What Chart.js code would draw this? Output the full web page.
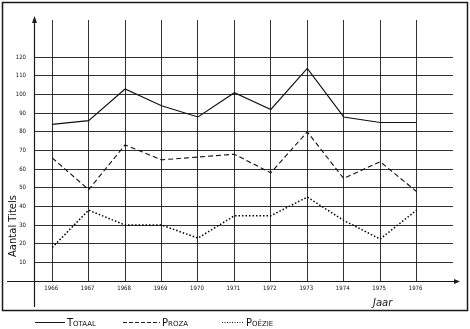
<!DOCTYPE html>
<html>
<head>
<meta charset="utf-8">
<script src="https://cdn.jsdelivr.net/npm/chart.js@4"></script>
<style>
  html, body { margin: 0; padding: 0; background: #fff; }
  #wrap { width: 470px; height: 329px; }
</style>
</head>
<body>
<div id="wrap"><canvas id="grafico" width="470" height="329"></canvas></div>
<script>
const jaren = [1966, 1967, 1968, 1969, 1970, 1971, 1972, 1973, 1974, 1975, 1976]
const totaal = [84, 86, 103, 94, 88, 101, 92, 114, 88, 85, 85]
const proza = [66, 49, 73, 65, 66.5, 68, 58, 80, 55, 64, 48]
const poezie = [18, 38, 30, 30, 23, 35, 35, 45, 32.5, 22.5, 38]
const yTicks = [10, 20, 30, 40, 50, 60, 70, 80, 90, 100, 110, 120]
const reeksen = ['Totaal', 'Proza', 'Poëzie']
const asTitelY = 'Aantal Titels'
const asTitelX = 'Jaar'

const lijnFont = '"Liberation Sans Narrow", "DejaVu Sans Condensed", "Liberation Sans", sans-serif'

function punten(arr){
    return jaren.map((j, i) => ({x: j, y: arr[i]}))
}

const tekening = {
    id: 'tekening',
    afterDraw(chart){
        const ctx = chart.ctx
        const xs = chart.scales.x, ys = chart.scales.y
        const x0 = xs.left, y0 = ys.bottom
        ctx.save()
        ctx.strokeStyle = '#1a1a1a'
        // kader
        ctx.lineWidth = 1.5
        ctx.strokeRect(2.5, 2.5, 465, 308)
        // assen
        ctx.lineWidth = 1.2
        ctx.beginPath()
        ctx.moveTo(7, y0 + 0.5); ctx.lineTo(xs.right + 5, y0 + 0.5)
        ctx.moveTo(x0 + 0.5, 307); ctx.lineTo(x0 + 0.5, ys.top - 2)
        ctx.stroke()
        ctx.fillStyle = '#1a1a1a'
        ctx.beginPath()
        ctx.moveTo(xs.right + 7, y0 + 0.5); ctx.lineTo(xs.right + 1, y0 - 2); ctx.lineTo(xs.right + 1, y0 + 3)
        ctx.fill()
        ctx.beginPath()
        ctx.moveTo(x0 + 0.5, ys.top - 4); ctx.lineTo(x0 - 2, ys.top + 3); ctx.lineTo(x0 + 3, ys.top + 3)
        ctx.fill()
        // labels
        ctx.fillStyle = '#111'
        ctx.font = '6px ' + lijnFont
        ctx.textAlign = 'right'
        ctx.textBaseline = 'middle'
        yTicks.forEach(v => ctx.fillText(v, x0 - 8, ys.getPixelForValue(v)))
        ctx.textAlign = 'center'
        jaren.forEach(j => ctx.fillText(j, xs.getPixelForValue(j) - 1, y0 + 7))
        ctx.font = 'italic 10px "DejaVu Sans", sans-serif'
        ctx.textAlign = 'left'
        ctx.fillText(asTitelX, 373, 303)
        ctx.save()
        ctx.translate(13, 226)
        ctx.rotate(-Math.PI / 2)
        ctx.textAlign = 'center'
        ctx.font = '10px "DejaVu Sans", sans-serif'
        ctx.fillText(asTitelY, 0, 0)
        ctx.restore()
        // legenda
        const leg = [[35, 65, []], [123, 160, [4, 2]], [222, 244, [1, 1.5]]]
        ctx.lineWidth = 1
        leg.forEach((l, i) => {
            ctx.setLineDash(l[2])
            ctx.beginPath()
            ctx.moveTo(l[0], 322.5); ctx.lineTo(l[1], 322.5)
            ctx.stroke()
            ctx.setLineDash([])
            const t = reeksen[i].toUpperCase()
            let x = l[1] + 2
            ctx.textAlign = 'left'
            ctx.textBaseline = 'alphabetic'
            ctx.font = '10px "DejaVu Sans", sans-serif'
            ctx.fillText(t[0], x, 326)
            x += ctx.measureText(t[0]).width
            ctx.font = '7px "DejaVu Sans", sans-serif'
            ctx.fillText(t.slice(1), x, 326)
        })
        ctx.restore()
    }
}

const graph = new Chart(document.getElementById('grafico').getContext('2d'), {
    type: 'line',
    data: {
        datasets: [{
            label: reeksen[0],
            data: punten(totaal),
            borderColor: '#111',
            borderWidth: 1.1
        }, {
            label: reeksen[1],
            data: punten(proza),
            borderColor: '#111',
            borderWidth: 1.1,
            borderDash: [5, 3]
        }, {
            label: reeksen[2],
            data: punten(poezie),
            borderColor: '#000',
            borderWidth: 1.5,
            borderDash: [1.5, 2]
        }]
    },
    options: {
        responsive: false,
        animation: false,
        layout: { padding: { left: 34, top: 20, right: 17, bottom: 48 } },
        elements: { point: { radius: 0 }, line: { tension: 0 } },
        plugins: { legend: { display: false }, tooltip: { enabled: false } },
        scales: {
            x: {
                type: 'linear', min: 1965.5, max: 1977,
                afterBuildTicks: s => { s.ticks = jaren.map(v => ({value: v})) },
                ticks: { display: false },
                grid: { color: 'rgba(0,0,0,0.8)', lineWidth: 1, drawTicks: false },
                border: { display: false }
            },
            y: {
                min: 0, max: 140,
                afterBuildTicks: s => { s.ticks = yTicks.map(v => ({value: v})) },
                ticks: { display: false },
                grid: { color: 'rgba(0,0,0,0.8)', lineWidth: 1, drawTicks: false },
                border: { display: false }
            }
        }
    },
    plugins: [tekening]
})
</script>
</body>
</html>
